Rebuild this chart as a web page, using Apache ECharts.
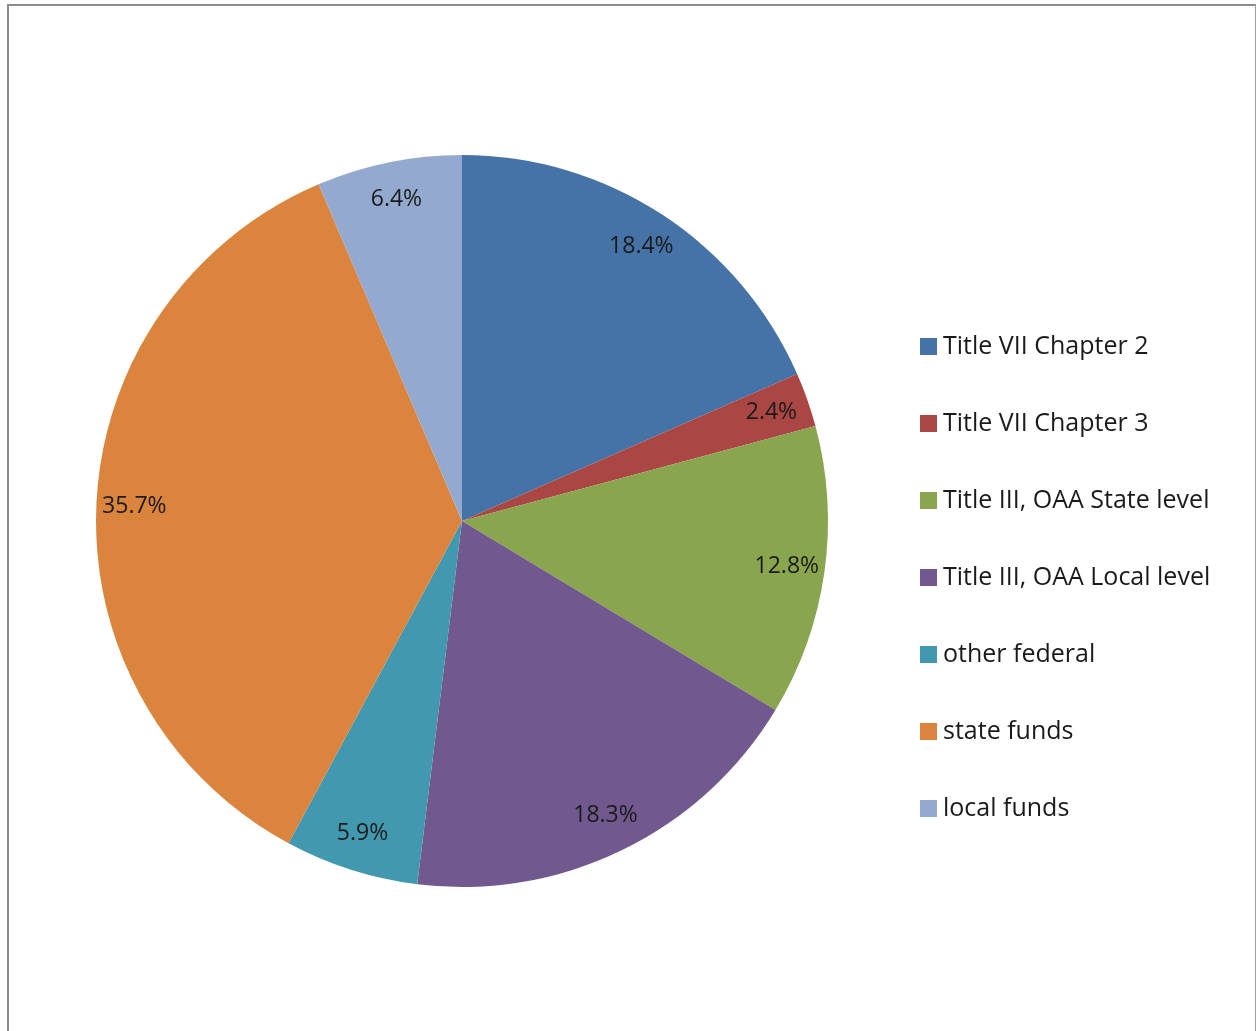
<!DOCTYPE html>
<html>
<head>
<meta charset="utf-8">
<script src="https://cdn.jsdelivr.net/npm/echarts@6/dist/echarts.min.js"></script>
<style>
html,body{margin:0;padding:0;background:#fff;}
#frame{position:absolute;left:7px;top:4px;width:1246px;height:1040px;border-left:2px solid #8c8c8c;border-top:2px solid #8c8c8c;border-right:1px solid #a0a0a0;}
#chart{position:absolute;left:0;top:0;width:1257px;height:1031px;}
</style>
</head>
<body>
<div id="frame"></div>
<div id="chart"></div>
<script>
const categories = ["Title VII Chapter 2","Title VII Chapter 3","Title III, OAA State level","Title III, OAA Local level","other federal","state funds","local funds"];
const values = [18.4, 2.4, 12.8, 18.3, 5.9, 35.7, 6.4];
const colors = ["#4572A7","#AA4643","#89A54E","#71588F","#4198AF","#DB843D","#93A9CF"];

const data = categories.map((c,i)=>({name:c, value:values[i], itemStyle:{color:colors[i]}}));
const chart = echarts.init(document.getElementById('chart'));
chart.setOption({
  animation:false,
  legend:{
    orient:'vertical', left:915, top:329,
    itemWidth:17, itemHeight:17, itemGap:52,
    icon:'rect',
    textStyle:{fontFamily:'Open Sans', fontSize:25, color:'#1a1a1a', padding:[0,0,0,1]},
    data:categories
  },
  series:[
    {type:'pie', center:[462,521], radius:[0,366], startAngle:90, clockwise:true,
     data:data, label:{show:false}, labelLine:{show:false}, silent:true},
    {type:'pie', center:[462,521], radius:[284,366], startAngle:90, clockwise:true,
     data:categories.map((c,i)=>({name:c, value:values[i], itemStyle:{color:'rgba(0,0,0,0)'}})),
     silent:true, legendHoverLink:false,
     label:{show:true, position:'inside', formatter:p=>p.value.toFixed(1)+'%', fontFamily:'Open Sans', fontSize:23, color:'#1a1a1a'},
     labelLine:{show:false}}
  ]
});
</script>
</body>
</html>
